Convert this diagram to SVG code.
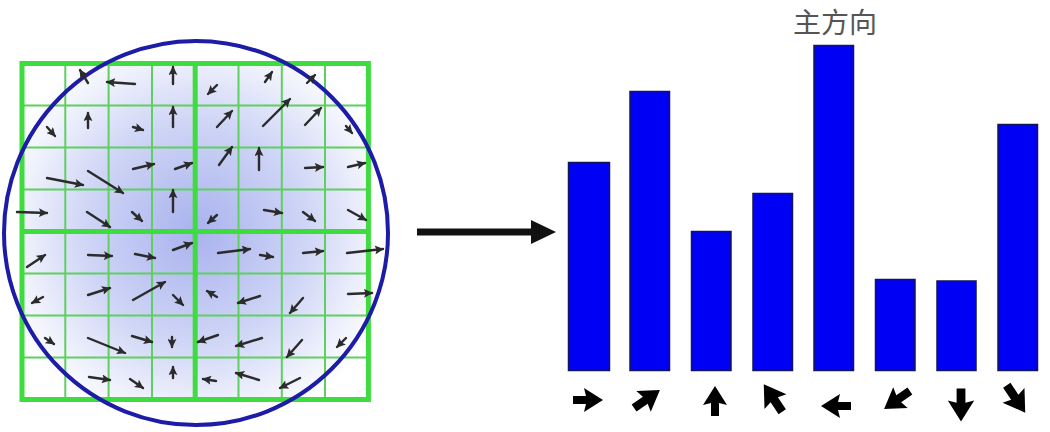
<svg xmlns="http://www.w3.org/2000/svg" width="1050" height="432" viewBox="0 0 1050 432">
<style>
.thin{stroke:#5fcf5f;stroke-width:2;fill:none}
.thick{stroke:#3edc3e;stroke-width:5;fill:none}
.v{stroke:#2b2b2b;stroke-width:2.4;fill:none;marker-end:url(#ah);stroke-linecap:round}
.bar{fill:#0000f4;stroke:#14145a;stroke-width:1.5}
.title{font-family:"Noto Sans CJK SC","Noto Sans",sans-serif;font-size:28px;fill:#555555}
</style>
<defs>
<radialGradient id="bg" gradientUnits="userSpaceOnUse" cx="196" cy="232" r="205">
<stop offset="0" stop-color="#a9b2ee"/>
<stop offset="0.55" stop-color="#d0d6f6"/>
<stop offset="1" stop-color="#ffffff"/>
</radialGradient>
<marker id="ah" viewBox="0 0 10 10" refX="9" refY="5" markerUnits="userSpaceOnUse" markerWidth="9" markerHeight="9" orient="auto">
<path d="M0,0 L10,5 L0,10 L2,5 Z" fill="#2b2b2b"/>
</marker>
<path id="fat" d="M-15,-4 L-2,-4 L-4,-12 L15,0 L-4,12 L-2,4 L-15,4 Z" fill="#000"/>
</defs>
<rect width="1050" height="432" fill="#ffffff"/>

<g id="grid-patch">
<rect x="22" y="63.5" width="346.4" height="336" fill="url(#bg)"/>
<g class="thin">
<path d="M65.3,63.5V399.5M108.6,63.5V399.5M152,63.5V399.5M238.5,63.5V399.5M281.8,63.5V399.5M325,63.5V399.5"/>
<path d="M22,105.5H368.4M22,147.5H368.4M22,189.5H368.4M22,273.5H368.4M22,315.5H368.4M22,357.5H368.4"/>
</g>
<g class="thick">
<rect x="22" y="63.5" width="346.4" height="336"/>
<path d="M195.2,63.5V399.5M22,231.5H368.4"/>
</g>
<circle cx="196" cy="233" r="192" fill="none" stroke="#1c1ca6" stroke-width="4"/>
<g id="gradients">
<line class="v" x1="88" y1="83" x2="80" y2="70"/>
<line class="v" x1="135" y1="84" x2="107" y2="82"/>
<line class="v" x1="173" y1="84" x2="173" y2="67"/>
<line class="v" x1="217" y1="85" x2="208" y2="94"/>
<line class="v" x1="265" y1="82" x2="272" y2="72"/>
<line class="v" x1="307" y1="83" x2="315" y2="75"/>
<line class="v" x1="47" y1="127" x2="55" y2="136"/>
<line class="v" x1="88" y1="128" x2="88" y2="113"/>
<line class="v" x1="133" y1="127" x2="143" y2="130"/>
<line class="v" x1="173" y1="127" x2="173" y2="107"/>
<line class="v" x1="217" y1="127" x2="232" y2="111"/>
<line class="v" x1="263" y1="126" x2="290" y2="99"/>
<line class="v" x1="305" y1="125" x2="321" y2="108"/>
<line class="v" x1="346" y1="126" x2="352" y2="133"/>
<line class="v" x1="47" y1="178" x2="83" y2="185"/>
<line class="v" x1="88" y1="171" x2="123" y2="193"/>
<line class="v" x1="133" y1="169" x2="154" y2="164"/>
<line class="v" x1="175" y1="169" x2="192" y2="163"/>
<line class="v" x1="219" y1="165" x2="232" y2="147"/>
<line class="v" x1="259" y1="170" x2="259" y2="148"/>
<line class="v" x1="305" y1="168" x2="323" y2="167"/>
<line class="v" x1="348" y1="167" x2="365" y2="163"/>
<line class="v" x1="17" y1="212" x2="47" y2="213"/>
<line class="v" x1="87" y1="212" x2="110" y2="227"/>
<line class="v" x1="132" y1="212" x2="142" y2="221"/>
<line class="v" x1="173" y1="212" x2="173" y2="190"/>
<line class="v" x1="217" y1="215" x2="208" y2="223"/>
<line class="v" x1="264" y1="210" x2="282" y2="213"/>
<line class="v" x1="303" y1="212" x2="315" y2="221"/>
<line class="v" x1="348" y1="210" x2="366" y2="220"/>
<line class="v" x1="27" y1="267" x2="45" y2="255"/>
<line class="v" x1="88" y1="255" x2="112" y2="256"/>
<line class="v" x1="135" y1="254" x2="155" y2="258"/>
<line class="v" x1="173" y1="250" x2="192" y2="243"/>
<line class="v" x1="218" y1="253" x2="250" y2="249"/>
<line class="v" x1="260" y1="255" x2="273" y2="257"/>
<line class="v" x1="303" y1="253" x2="323" y2="251"/>
<line class="v" x1="347" y1="253" x2="383" y2="249"/>
<line class="v" x1="43" y1="297" x2="32" y2="303"/>
<line class="v" x1="88" y1="295" x2="110" y2="288"/>
<line class="v" x1="133" y1="300" x2="165" y2="282"/>
<line class="v" x1="173" y1="295" x2="183" y2="305"/>
<line class="v" x1="217" y1="297" x2="207" y2="291"/>
<line class="v" x1="260" y1="296" x2="238" y2="303"/>
<line class="v" x1="303" y1="298" x2="290" y2="313"/>
<line class="v" x1="348" y1="294" x2="372" y2="293"/>
<line class="v" x1="45" y1="338" x2="54" y2="344"/>
<line class="v" x1="88" y1="338" x2="125" y2="353"/>
<line class="v" x1="132" y1="336" x2="152" y2="342"/>
<line class="v" x1="172" y1="337" x2="172" y2="347"/>
<line class="v" x1="218" y1="335" x2="198" y2="342"/>
<line class="v" x1="262" y1="338" x2="236" y2="346"/>
<line class="v" x1="302" y1="340" x2="287" y2="357"/>
<line class="v" x1="346" y1="338" x2="337" y2="347"/>
<line class="v" x1="89" y1="377" x2="110" y2="380"/>
<line class="v" x1="130" y1="379" x2="143" y2="388"/>
<line class="v" x1="173" y1="378" x2="173" y2="367"/>
<line class="v" x1="216" y1="381" x2="203" y2="379"/>
<line class="v" x1="259" y1="380" x2="236" y2="373"/>
<line class="v" x1="300" y1="378" x2="280" y2="388"/>
</g>
</g>

<g id="connectors">
<line x1="417" y1="232" x2="534" y2="232" stroke="#111" stroke-width="7"/>
<path d="M531,220 L556,232 L531,244 Z" fill="#111"/>
</g>

<g id="histogram">
<text class="title" x="835" y="33" text-anchor="middle">主方向</text>
<rect id="bar1" class="bar" x="568.5" y="162.5" width="41" height="208"/>
<rect id="bar2" class="bar" x="630" y="91.5" width="39.5" height="279"/>
<rect id="bar3" class="bar" x="691.5" y="231.5" width="39.5" height="139"/>
<rect id="bar4" class="bar" x="753" y="193.5" width="39.5" height="177"/>
<rect id="bar5" class="bar" x="814" y="45.5" width="39.5" height="325"/>
<rect id="bar6" class="bar" x="875.5" y="279.5" width="39.5" height="91"/>
<rect id="bar7" class="bar" x="937" y="281" width="39" height="89.5"/>
<rect id="bar8" class="bar" x="998" y="124.5" width="39.5" height="246"/>
</g>

<g id="bin-directions">
<use href="#fat" transform="translate(588,400)"/>
<use href="#fat" transform="translate(647,399) rotate(-35) scale(1.05)"/>
<use href="#fat" transform="translate(715,401) rotate(-90)"/>
<use href="#fat" transform="translate(773,398) rotate(-124) scale(1.1)"/>
<use href="#fat" transform="translate(836,406) rotate(180)"/>
<use href="#fat" transform="translate(897,400) rotate(145) scale(1.05)"/>
<use href="#fat" transform="translate(961,405) rotate(90) scale(1.1)"/>
<use href="#fat" transform="translate(1016,399) rotate(56) scale(1.1)"/>
</g>
</svg>
